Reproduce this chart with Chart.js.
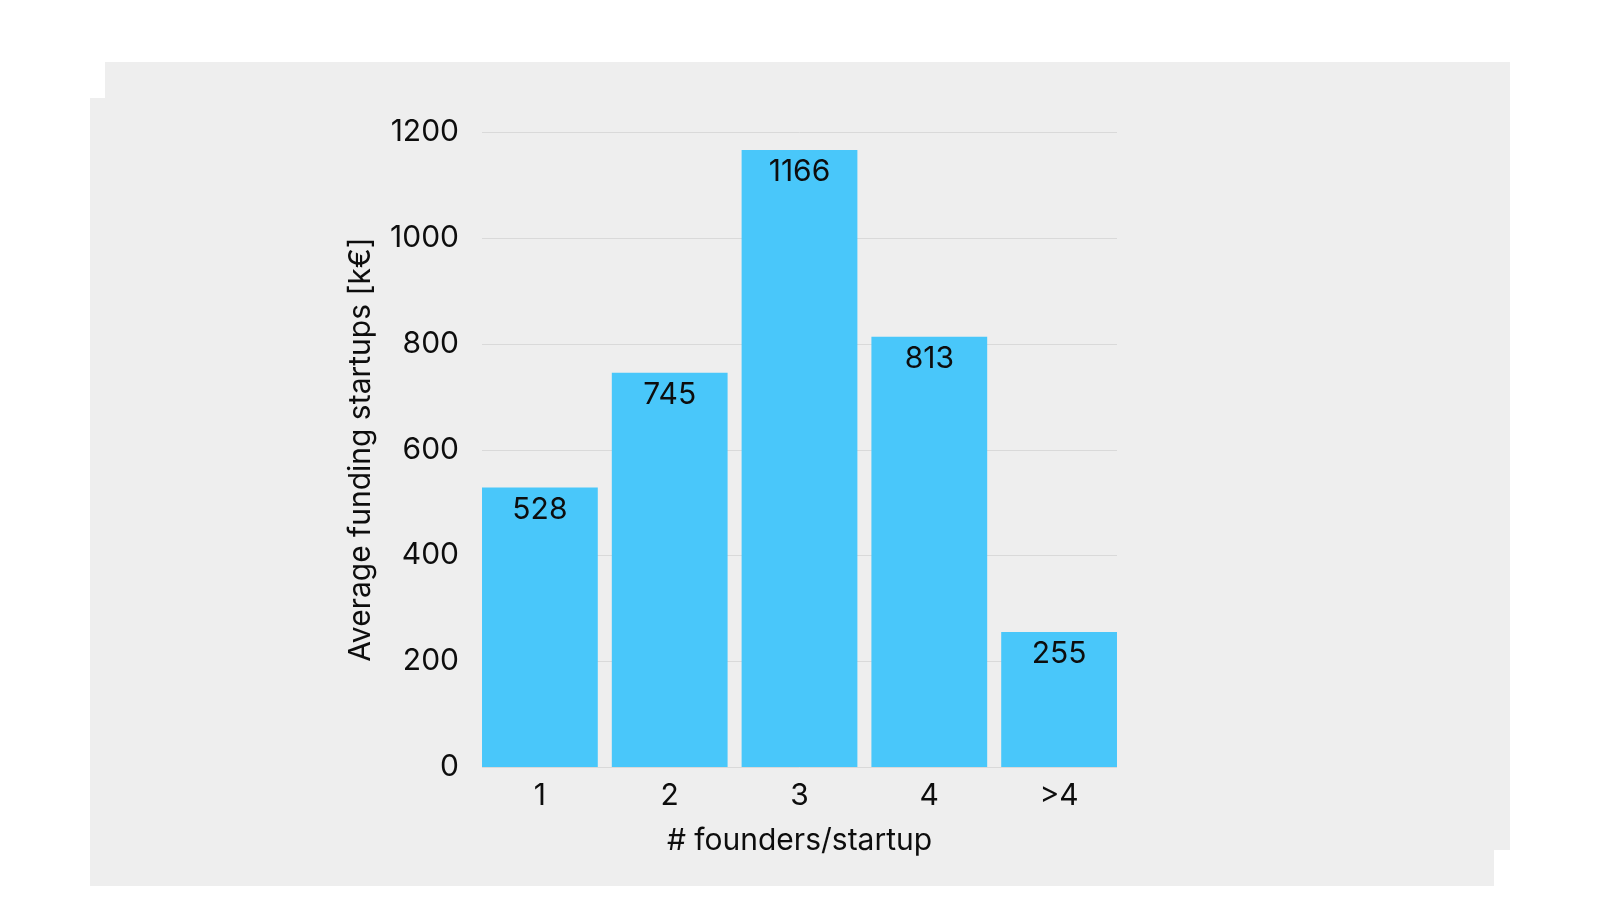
<!DOCTYPE html>
<html>
<head>
<meta charset="utf-8">
<script src="https://cdn.jsdelivr.net/npm/chart.js@4/dist/chart.umd.min.js"></script>
<style>
  html, body { margin: 0; padding: 0; background: #fff; }
  .wrap { position: relative; width: 1600px; height: 900px; overflow: hidden; }
  .bg { position: absolute; background: #eeeeee; }
  #bgA { left: 105px; top: 62px; width: 1405px; height: 788px; }
  #bgB { left: 90px; top: 98px; width: 1404px; height: 788px; }
  canvas { position: absolute; left: 0; top: 0; }
</style>
</head>
<body>
<div class="wrap">
  <div class="bg" id="bgA"></div>
  <div class="bg" id="bgB"></div>
  <canvas id="chart" width="1600" height="900"></canvas>
</div>
<script>
// dados do gráfico
const categorias = ["1", "2", "3", "4", ">4"];
const valores = [528, 745, 1166, 813, 255];
const ticksY = [0, 200, 400, 600, 800, 1000, 1200];
const tituloX = "# founders/startup";
const tituloY = "Average funding startups [k€]";

const fonte = "Inter";
const corTexto = "#0d0d0d";

// linhas de grade só entre a primeira e a última barra
const gradeY = {
  id: "gradeY",
  beforeDatasetsDraw(chart) {
    const meta = chart.getDatasetMeta(0);
    const primeira = meta.data[0];
    const ultima = meta.data[meta.data.length - 1];
    const x0 = primeira.x - primeira.width / 2;
    const x1 = ultima.x + ultima.width / 2;
    const ctx = chart.ctx;
    ctx.save();
    ctx.strokeStyle = "#d9d9d9";
    ctx.lineWidth = 1;
    ticksY.forEach((v) => {
      const y = Math.round(chart.scales.y.getPixelForValue(v)) + 0.5;
      ctx.beginPath();
      ctx.moveTo(x0, y);
      ctx.lineTo(x1, y);
      ctx.stroke();
    });
    ctx.restore();
  },
};

// rótulos dentro das barras, no topo
const rotulosBarras = {
  id: "rotulosBarras",
  afterDatasetsDraw(chart) {
    const ctx = chart.ctx;
    const meta = chart.getDatasetMeta(0);
    ctx.save();
    ctx.font = `30px ${fonte}`;
    ctx.fillStyle = corTexto;
    ctx.textAlign = "center";
    ctx.textBaseline = "middle";
    meta.data.forEach((bar, i) => {
      ctx.fillText(String(valores[i]), bar.x, bar.y + 22);
    });
    ctx.restore();
  },
};

const ctx = document.getElementById("chart").getContext("2d");
new Chart(ctx, {
  type: "bar",
  data: {
    labels: categorias,
    datasets: [
      {
        data: valores,
        backgroundColor: "#49c7fa",
        borderWidth: 0,
        barPercentage: 0.892,
        categoryPercentage: 1,
      },
    ],
  },
  options: {
    responsive: false,
    animation: false,
    layout: { padding: { left: 339, right: 476, top: 132, bottom: 37 } },
    plugins: { legend: { display: false }, tooltip: { enabled: false } },
    scales: {
      x: {
        grid: { display: false, drawTicks: false },
        border: { display: false },
        ticks: { color: corTexto, font: { family: fonte, size: 30 }, padding: 11 },
        title: {
          display: true,
          text: tituloX,
          color: corTexto,
          font: { family: fonte, size: 30 },
        },
        afterFit: (scale) => { scale.height = 96; },
      },
      y: {
        min: 0,
        max: 1200,
        grid: { display: false, drawTicks: false },
        border: { display: false },
        afterBuildTicks: (scale) => { scale.ticks = ticksY.map((v) => ({ value: v })); },
        ticks: {
          color: corTexto,
          font: { family: fonte, size: 30 },
          padding: 16,
          callback: (v) => String(v),
        },
        title: {
          display: true,
          text: tituloY,
          color: corTexto,
          font: { family: fonte, size: 30 },
        },
        afterFit: (scale) => { scale.width = 136; },
      },
    },
  },
  plugins: [gradeY, rotulosBarras],
});
</script>
</body>
</html>
